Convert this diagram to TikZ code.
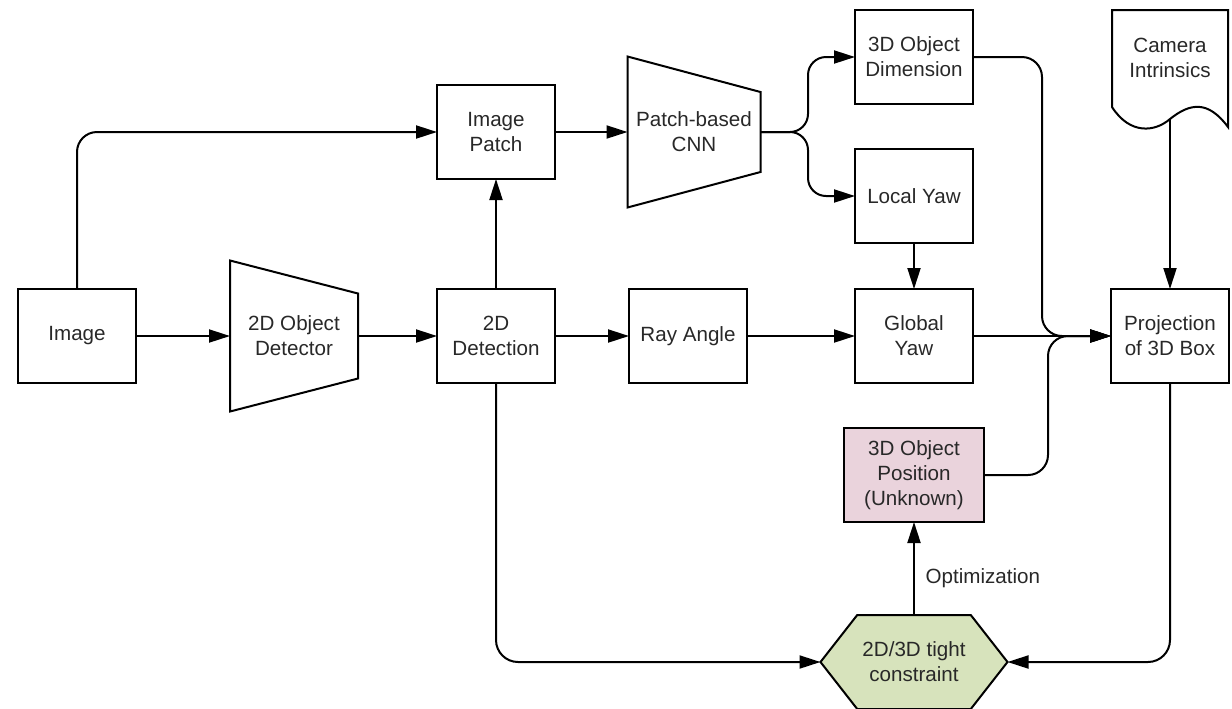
\documentclass[tikz,border=0pt]{standalone}
\usepackage{fontspec}
\setmainfont{Liberation Sans}
\usetikzlibrary{arrows.meta,shapes.symbols}
\definecolor{posfill}{RGB}{234,211,220}
\definecolor{hexfill}{RGB}{215,227,188}
\definecolor{txt}{RGB}{40,40,40}
\begin{document}
\begin{tikzpicture}[x=.5pt,y=.5pt,
 font=\fontsize{10.3pt}{12.5pt}\selectfont,
 line width=1pt,
 box/.style={draw,text=txt,align=center,minimum width=59pt,minimum height=47pt,inner sep=1pt,outer sep=0pt},
 trap/.style={text=txt,align=center,minimum height=75.5pt,inner sep=1pt,outer sep=0pt},
 hexa/.style={signal,signal to=west and east,signal pointer angle=104,draw,fill=hexfill,text=txt,align=center,minimum width=93.5pt,minimum height=47pt,inner sep=1pt,outer sep=0pt},
 arr/.style={-{Triangle[length=10.5pt,width=6.5pt]}},
 round/.style={rounded corners=10pt},
]
\useasboundingbox (0,0) rectangle (1232,-708);
\path
 (77,-336) node[box] (img) {Image} % main row
 ++(0:217) node[trap,minimum width=64pt] (det) {2D Object\\Detector}
 ++(0:202) node[box] (dd) {2D\\Detection}
 ++(0:192) node[box] (ray) {Ray Angle}
 ++(0:226) node[box] (gyaw) {Global\\Yaw}
 ++(0:256) node[box] (proj) {Projection\\of 3D Box}
 (496,-132) node[box] (patch) {Image\\Patch} % top row
 ++(0:198) node[trap,minimum width=66.5pt] (cnn) {Patch-based\\CNN}
 (914,-57) node[box] (dim) {3D Object\\Dimension}
 ++(-90:139) node[box] (lyaw) {Local Yaw}
 (1170,-58) node[text=txt,align=center] (cam) {Camera\\Intrinsics}
 (914,-475) node[box,fill=posfill,minimum width=70pt] (pos) {3D Object\\Position\\(Unknown)} % bottom
 ++(-90:187) node[hexa] (hex) {2D/3D tight\\constraint};
% outlines
\draw (det.north west) -- ([yshift=-16.5pt]det.north east) -- ([yshift=16.5pt]det.south east) -- (det.south west) -- cycle;
\draw (cnn.north west) -- ([yshift=-17.75pt]cnn.north east) -- ([yshift=17.75pt]cnn.south east) -- (cnn.south west) -- cycle;
\draw (1112,-10) -- (1228,-10) -- (1228,-127)
 .. controls (1208,-100) and (1190,-103) .. (1170,-119)
 .. controls (1155,-132) and (1130,-135) .. (1112,-107) -- cycle;
\coordinate (camb) at (1170,-119);
\coordinate (split) at (808,-132);
\coordinate (mA) at (1042,-336);
\coordinate (mB) at (1048,-336);
% connectors
\draw[arr] (img) -- (det);
\draw[arr] (det) -- (dd);
\draw[arr] (dd) -- (ray);
\draw[arr] (ray) -- (gyaw);
\draw[arr] (gyaw) -- (proj);
\draw[arr] (dd) -- (patch);
\draw[arr,round] (img) |- (patch);
\draw[arr] (patch) -- (cnn);
\draw[arr,rounded corners=9pt] (cnn) -- (split) |- (dim);
\draw[arr,rounded corners=9pt] (cnn) -- (split) |- (lyaw);
\draw[arr] (lyaw) -- (gyaw);
\draw[arr] (camb) -- (proj);
\draw[arr,round] (dim) -| (mA) -- (proj);
\draw[arr,round] (pos) -| (mB) -- (proj);
\draw[arr,rounded corners=11pt] (dd) |- (hex);
\draw[arr,rounded corners=11pt] (proj) |- (hex);
\draw[arr] (hex) -- node[right,pos=.4,xshift=2pt,text=txt] (opt) {Optimization} (pos);
\end{tikzpicture}
\end{document}
